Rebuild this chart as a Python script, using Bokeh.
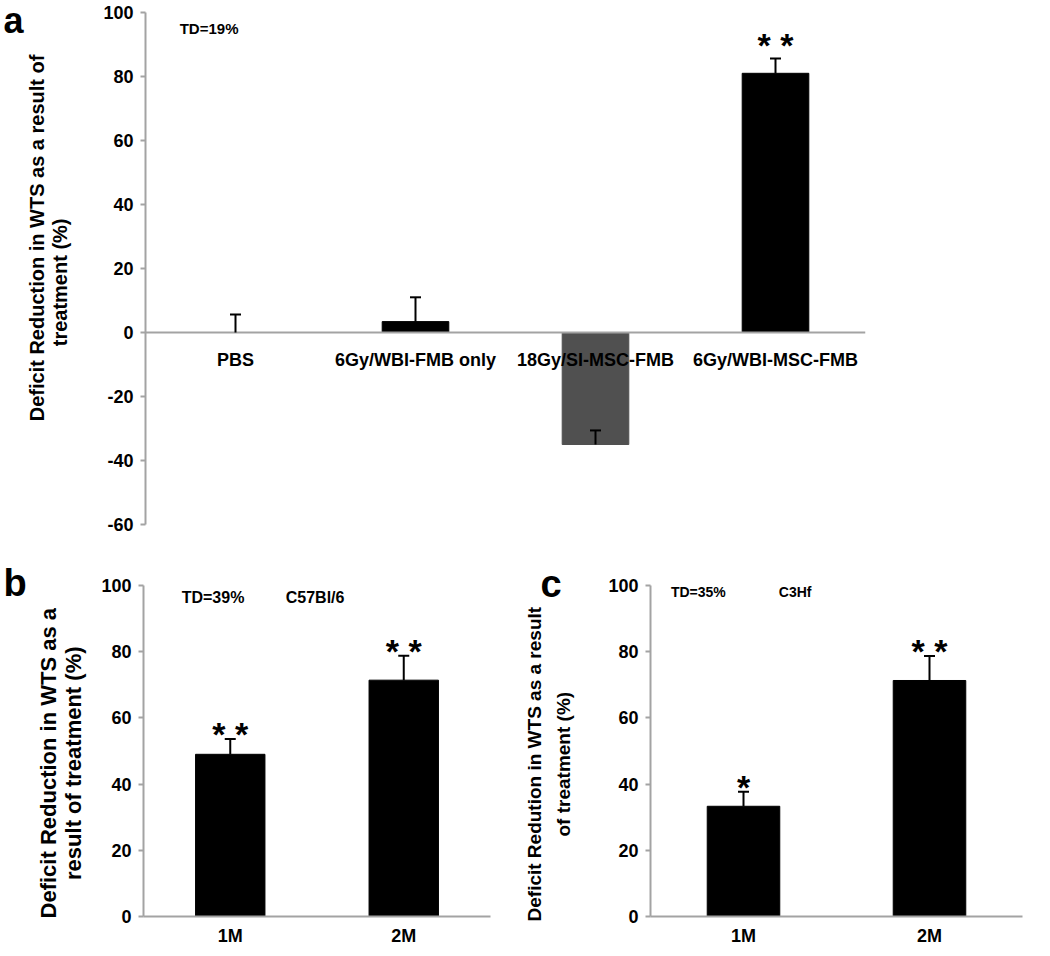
from bokeh.plotting import figure
from bokeh.layouts import column, row
from bokeh.models import (FactorRange, Range1d, FixedTicker, Whisker, TeeHead,
                          Label, ColumnDataSource)
from bokeh.embed import file_html
from bokeh.resources import INLINE
from bokeh.core.properties import value

FONT = "Liberation Sans"
AXIS_GRAY = "#a3a3a3"
NB = "\u00a0"

# ---------------- data ----------------
a_groups = ["PBS", "6Gy/WBI-FMB only", "18Gy/SI-MSC-FMB", "6Gy/WBI-MSC-FMB"]
a_values = [0.0, 3.4, -35.0, 81.0]
a_errors = [5.6, 7.6, 4.4, 4.6]
a_colors = ["#000000", "#000000", "#505050", "#000000"]
a_stars = ["", "", "", "* *"]
a_ticks = [-60, -40, -20, 0, 20, 40, 60, 80, 100]

b_groups = ["1M", "2M"]
b_values = [49.0, 71.4]
b_errors = [4.6, 7.4]
b_stars = ["* *", "* *"]

c_groups = ["1M", "2M"]
c_values = [33.3, 71.3]
c_errors = [4.4, 7.4]
c_stars = ["*", "* *"]

bc_ticks = [0, 20, 40, 60, 80, 100]


def make_panel(groups, values, errors, colors, stars, yr, ticks, width, height,
               left, right, top, bottom, bar_width, ylabel, ylabel_size,
               ylabel_standoff, ylabel_lh, star_size, star_off, zero_axis=False):
    p = figure(x_range=FactorRange(*groups, range_padding=0),
               y_range=Range1d(*yr), width=width, height=height,
               output_backend="svg", toolbar_location=None,
               min_border_left=left, min_border_right=right,
               min_border_top=top, min_border_bottom=bottom)
    p.outline_line_color = None
    p.xgrid.visible = False
    p.ygrid.visible = False
    upper = [v + e for v, e in zip(values, errors)]
    src = ColumnDataSource(dict(x=groups, top=values, lower=values, upper=upper,
                                color=colors, stars=stars))
    p.vbar(x="x", top="top", bottom=0, width=bar_width, source=src,
           fill_color="color", line_color="color")
    w = Whisker(source=src, base="x", lower="lower", upper="upper",
                upper_head=TeeHead(size=11, line_width=2, line_color="black"),
                lower_head=None, line_width=2, line_color="black",
                level="annotation")
    p.add_layout(w)
    p.text(x="x", y="upper", text="stars", source=src, text_align="center",
           text_baseline="alphabetic", text_font=value(FONT),
           text_font_style="bold", text_font_size=star_size, y_offset=star_off,
           text_color="black")

    ya = p.yaxis[0]
    ya.ticker = FixedTicker(ticks=ticks)
    ya.major_label_overrides = {t: str(t) for t in ticks}
    ya.axis_line_color = AXIS_GRAY
    ya.axis_line_width = 2
    ya.major_tick_line_color = AXIS_GRAY
    ya.major_tick_line_width = 2
    ya.major_tick_out = 5
    ya.major_tick_in = 0
    ya.minor_tick_line_color = None
    ya.major_label_text_font = FONT
    ya.major_label_text_font_style = "bold"
    ya.major_label_text_font_size = "18px"
    ya.major_label_text_color = "black"
    ya.major_label_standoff = 7
    ya.axis_label = ylabel
    ya.axis_label_text_font = FONT
    ya.axis_label_text_font_style = "bold"
    ya.axis_label_text_font_size = ylabel_size
    ya.axis_label_text_color = "black"
    ya.axis_label_standoff = ylabel_standoff
    ya.axis_label_text_line_height = ylabel_lh

    xa = p.xaxis[0]
    xa.major_tick_out = 0
    xa.major_tick_in = 0
    if zero_axis:
        xa.fixed_location = 0
        xa.major_label_standoff = 17
    else:
        xa.major_label_standoff = 9
    xa.axis_line_color = AXIS_GRAY
    xa.axis_line_width = 2
    xa.major_tick_line_color = None
    xa.minor_tick_line_color = None
    xa.major_label_text_font = FONT
    xa.major_label_text_font_style = "bold"
    xa.major_label_text_font_size = "18px"
    xa.major_label_text_color = "black"
    return p


def add_label(p, x, y, text, size, baseline="middle"):
    p.add_layout(Label(x=x, y=y, text=text, text_font=FONT,
                       text_font_style="bold", text_font_size=size,
                       text_baseline=baseline, text_align="left",
                       text_color="black"))


def add_letter(p, x, y, text, size="38px"):
    # placed in the left side panel so that it is not clipped to the frame
    p.add_layout(Label(x=x, y=y, x_units="screen", y_units="data", text=text,
                       text_font=FONT, text_font_style="bold",
                       text_font_size=size, text_baseline="alphabetic",
                       text_align="left", text_color="black"), "left")


# ---------------- panel a ----------------
pa = make_panel(a_groups, a_values, a_errors, a_colors, a_stars, (-60, 100),
                a_ticks, 880, 545, 145, 15, 12, 21, 0.37,
                NB * 11 + "Deficit Reduction in WTS as a result of\ntreatment (%)" + NB * 5,
                "20px", 29, 1.05, "34px", -14, zero_axis=True)
add_letter(pa, 0, 97.5, "a", "36px")
add_label(pa, 0.19, 95.0, "TD=19%", "15px")

# ---------------- panel b ----------------
pb = make_panel(b_groups, b_values, b_errors, ["#000000"] * 2, b_stars, (0, 100),
                bc_ticks, 500, 403, 143, 10, 40, 30, 0.40,
                "Deficit Reduction in WTS as a" + NB * 4 + "\nresult of treatment (%)" + NB * 4,
                "22px", 12, 1.0, "34px", -5)
add_letter(pb, -7, 100.9, "b")
add_label(pb, 0.22, 96.4, "TD=39%", "16px")
add_label(pb, 0.82, 96.4, "C57Bl/6", "16px")

# ---------------- panel c ----------------
pc = make_panel(c_groups, c_values, c_errors, ["#000000"] * 2, c_stars, (0, 100),
                bc_ticks, 534, 403, 150, 12, 36, 30, 0.39,
                "Deficit Redution in WTS as a result" + NB * 5 + "\nof treatment (%)" + NB * 5,
                "19px", 31, 1.4, "34px", -5)
add_letter(pc, 40, 100.5, "c")
add_label(pc, 0.11, 98.0, "TD=35%", "14px")
add_label(pc, 0.69, 98.0, "C3Hf", "14px")

layout = column(pa, row(pb, pc))

open("out.html", "w").write(file_html(layout, INLINE))
